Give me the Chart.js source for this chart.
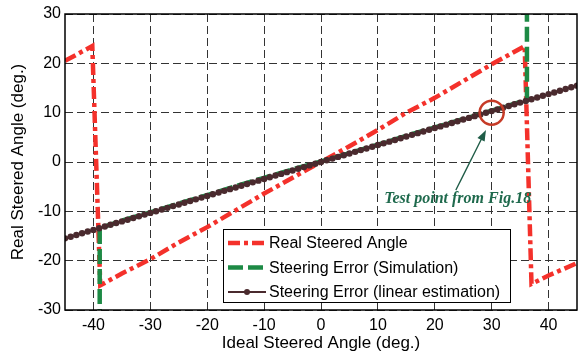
<!DOCTYPE html>
<html>
<head>
<meta charset="utf-8">
<script src="https://cdn.jsdelivr.net/npm/chart.js@4.4.1/dist/chart.umd.min.js"></script>
<style>
  html, body { margin: 0; padding: 0; background: #fff; }
  #chart { display: block; }
</style>
</head>
<body>
<canvas id="chart" width="581" height="356"></canvas>
<script>
// --- data ---
const xTicks = [-40, -30, -20, -10, 0, 10, 20, 30, 40];
const yTicks = [-30, -20, -10, 0, 10, 20, 30];

// Real steered angle (wraps around at about -39 and +36 deg.)
const realX = [-45, -40.2, -38.8, -35, -30, -25, -20, -15, -10, -5, 0, 5, 10, 15, 20, 25, 30, 35.8, 37, 40, 45];
const realY = [20.5, 23.5, -25, -22.6, -19.7, -16.3, -13.2, -9.8, -6.4, -3.2, 0, 3.2, 6.5, 10, 13, 16.4, 19.8, 23.5, -24.7, -23, -20.5];

// Steering error, simulated
const simX = [-38.9, -38.9, -35, -30, -25, -20, -15, -10, -5, 0, 5, 10, 15, 20, 25, 30, 36.2, 36.2];
const simY = [-45, -13.4, -11.9, -10.2, -8.4, -6.7, -4.9, -3.2, -1.5, 0.1, 1.8, 3.5, 5.3, 7, 8.7, 10.4, 12.6, 45];

// Steering error, linear estimation (1 deg. steps)
const estX = [-45, -44, -43, -42, -41, -40, -39, -38, -37, -36, -35, -34, -33, -32, -31, -30,
  -29, -28, -27, -26, -25, -24, -23, -22, -21, -20, -19, -18, -17, -16, -15, -14, -13, -12,
  -11, -10, -9, -8, -7, -6, -5, -4, -3, -2, -1, 0, 1, 2, 3, 4, 5, 6, 7, 8, 9, 10, 11, 12, 13,
  14, 15, 16, 17, 18, 19, 20, 21, 22, 23, 24, 25, 26, 27, 28, 29, 30, 31, 32, 33, 34, 35, 36,
  37, 38, 39, 40, 41, 42, 43, 44, 45];
const estY = [-15.48, -15.14, -14.79, -14.45, -14.10, -13.76, -13.42, -13.07, -12.73, -12.38,
  -12.04, -11.70, -11.35, -11.01, -10.66, -10.32, -9.98, -9.63, -9.29, -8.94, -8.60, -8.26,
  -7.91, -7.57, -7.22, -6.88, -6.54, -6.19, -5.85, -5.50, -5.16, -4.82, -4.47, -4.13, -3.78,
  -3.44, -3.10, -2.75, -2.41, -2.06, -1.72, -1.38, -1.03, -0.69, -0.34, 0, 0.34, 0.69, 1.03,
  1.38, 1.72, 2.06, 2.41, 2.75, 3.10, 3.44, 3.78, 4.13, 4.47, 4.82, 5.16, 5.50, 5.85, 6.19,
  6.54, 6.88, 7.22, 7.57, 7.91, 8.26, 8.60, 8.94, 9.29, 9.63, 9.98, 10.32, 10.66, 11.01, 11.35,
  11.70, 12.04, 12.38, 12.73, 13.07, 13.42, 13.76, 14.10, 14.45, 14.79, 15.14, 15.48];

const seriesNames = ["Real Steered Angle", "Steering Error (Simulation)", "Steering Error (linear estimation)"];

// test point marked on the plot
const testPoint = { x: 30, y: 10 };
const noteText = "Test point from Fig.18";

const RED = "#f4312b";
const GREEN = "#1d8a45";
const BROWN = "#4a2a2e";
const SANS = "Arial, 'Liberation Sans', sans-serif";

function pts(xs, ys) {
  return xs.map((x, i) => ({ x: x, y: ys[i] }));
}

// axis box, legend and the test point note
const extras = {
  id: "extras",
  afterDatasetsDraw(chart) {
    const { ctx, chartArea: a, scales: { x, y } } = chart;
    ctx.save();
    // box around plot
    ctx.strokeStyle = "#000";
    ctx.lineWidth = 1.5;
    ctx.strokeRect(a.left, a.top, a.right - a.left, a.bottom - a.top);

    // circle on the test point
    const cx = x.getPixelForValue(testPoint.x), cy = y.getPixelForValue(testPoint.y);
    ctx.strokeStyle = "#c63b27";
    ctx.lineWidth = 2.5;
    ctx.beginPath();
    ctx.arc(cx, cy, 12, 0, Math.PI * 2);
    ctx.stroke();

    // arrow from the note
    const tx = x.getPixelForValue(23.7), ty = y.getPixelForValue(-5.7);
    const hx = x.getPixelForValue(29.0), hy = y.getPixelForValue(6.5);
    const ang = Math.atan2(hy - ty, hx - tx);
    ctx.strokeStyle = "#1f5c47";
    ctx.fillStyle = "#1f5c47";
    ctx.lineWidth = 1.3;
    ctx.beginPath();
    ctx.moveTo(tx, ty);
    ctx.lineTo(hx - 8 * Math.cos(ang), hy - 8 * Math.sin(ang));
    ctx.stroke();
    ctx.beginPath();
    ctx.moveTo(hx, hy);
    ctx.lineTo(hx - 11 * Math.cos(ang) + 4 * Math.sin(ang), hy - 11 * Math.sin(ang) - 4 * Math.cos(ang));
    ctx.lineTo(hx - 11 * Math.cos(ang) - 4 * Math.sin(ang), hy - 11 * Math.sin(ang) + 4 * Math.cos(ang));
    ctx.closePath();
    ctx.fill();

    ctx.fillStyle = "#1f6a4d";
    ctx.font = "bold italic 16px 'Liberation Serif', 'Times New Roman', serif";
    ctx.textBaseline = "alphabetic";
    ctx.textAlign = "left";
    ctx.fillText(noteText, x.getPixelForValue(11.1), y.getPixelForValue(-8.3));

    // legend
    const lx = 223.5, ly = 229.5, lw = 287, lh = 73;
    ctx.fillStyle = "#fff";
    ctx.fillRect(lx, ly, lw, lh);
    ctx.strokeStyle = "#000";
    ctx.lineWidth = 1;
    ctx.strokeRect(lx, ly, lw, lh);
    const rows = [243, 267.5, 292];
    const styles = [
      { color: RED, width: 4.5, dash: [12, 4, 4, 4] },
      { color: GREEN, width: 4.5, dash: [15, 5] },
      { color: BROWN, width: 1.8, dash: [], dot: true }
    ];
    ctx.font = "16px " + SANS;
    ctx.textBaseline = "middle";
    rows.forEach((ry, i) => {
      const s = styles[i];
      ctx.strokeStyle = s.color;
      ctx.lineWidth = s.width;
      ctx.setLineDash(s.dash);
      ctx.beginPath();
      ctx.moveTo(228, ry);
      ctx.lineTo(266, ry);
      ctx.stroke();
      ctx.setLineDash([]);
      if (s.dot) {
        ctx.fillStyle = s.color;
        ctx.beginPath();
        ctx.arc(247, ry, 3, 0, Math.PI * 2);
        ctx.fill();
      }
      ctx.fillStyle = "#000";
      ctx.fillText(seriesNames[i], 269, ry + 1);
    });
    ctx.restore();
  }
};

new Chart(document.getElementById("chart"), {
  type: "scatter",
  data: {
    datasets: [
      {
        label: seriesNames[2],
        data: pts(estX, estY),
        showLine: true,
        borderColor: BROWN,
        backgroundColor: BROWN,
        borderWidth: 2,
        pointRadius: 3.2,
        pointBorderWidth: 0,
        order: 1
      },
      {
        label: seriesNames[1],
        data: pts(simX, simY),
        showLine: true,
        borderColor: GREEN,
        borderWidth: 4.5,
        borderDash: [15, 5],
        pointRadius: 0,
        order: 2
      },
      {
        label: seriesNames[0],
        data: pts(realX, realY),
        showLine: true,
        borderColor: RED,
        borderWidth: 4.5,
        borderDash: [12, 4, 4, 4],
        pointRadius: 0,
        order: 3
      }
    ]
  },
  options: {
    responsive: false,
    animation: false,
    devicePixelRatio: 1,
    layout: { padding: { top: 14, right: 2, left: 0, bottom: 0 } },
    plugins: {
      legend: { display: false },
      tooltip: { enabled: false }
    },
    scales: {
      x: {
        type: "linear",
        min: -45,
        max: 45,
        afterFit: s => { s.height = 46; },
        afterBuildTicks: s => { s.ticks = xTicks.map(v => ({ value: v })); },
        ticks: { color: "#000", font: { family: SANS, size: 16 }, padding: 6, maxRotation: 0 },
        grid: { color: "#333", lineWidth: 1, drawTicks: false },
        border: { display: false, dash: [8, 4] },
        title: {
          display: true,
          text: "Ideal Steered Angle (deg.)",
          color: "#000",
          font: { family: SANS, size: 17 },
          padding: { top: 0, bottom: 2 }
        }
      },
      y: {
        type: "linear",
        min: -30,
        max: 30,
        afterFit: s => { s.width = 65; },
        afterBuildTicks: s => { s.ticks = yTicks.map(v => ({ value: v })); },
        ticks: { color: "#000", font: { family: SANS, size: 16 }, padding: 4 },
        grid: { color: "#333", lineWidth: 1, drawTicks: false },
        border: { display: false, dash: [8, 4] },
        title: {
          display: true,
          text: "Real Steered Angle (deg.)",
          color: "#000",
          font: { family: SANS, size: 17 },
          padding: { top: 8, bottom: 0 }
        }
      }
    }
  },
  plugins: [extras]
});
</script>
</body>
</html>
